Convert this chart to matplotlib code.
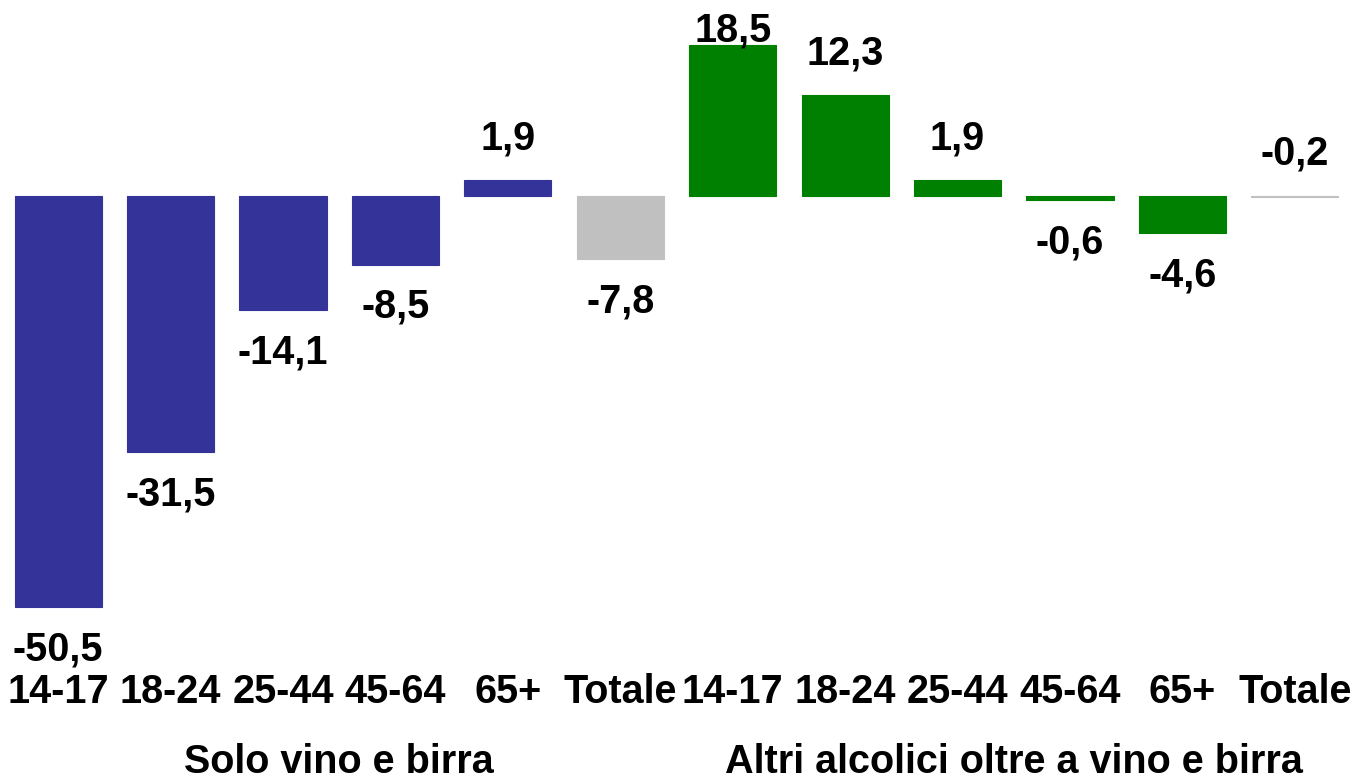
import matplotlib
matplotlib.use("Agg")
import matplotlib.pyplot as plt

plt.rcParams["font.family"] = ["Liberation Sans", "DejaVu Sans"]
plt.rcParams["font.weight"] = "bold"

# Variazioni percentuali per classe di età
age_groups = ["14-17", "18-24", "25-44", "45-64", "65+", "Totale"]
solo_vino_birra = [-50.5, -31.5, -14.1, -8.5, 1.9, -7.8]
altri_alcolici = [18.5, 12.3, 1.9, -0.6, -4.6, -0.2]
group_titles = ["Solo vino e birra", "Altri alcolici oltre a vino e birra"]

values = solo_vino_birra + altri_alcolici
labels = age_groups + age_groups
colors = ["#333399"] * 5 + ["#C0C0C0"] + ["#008000"] * 5 + ["#C0C0C0"]

W, H = 1356, 779
fs = 28.5
fig = plt.figure(figsize=(W / 100, H / 100), dpi=100)
ax = fig.add_axes([2 / W, (H - 665) / H, 1349 / W, 665 / H])

x = list(range(len(values)))
ax.bar(x, values, width=0.775, color=colors, edgecolor=colors, linewidth=0.8)

ax.set_xlim(-0.5, len(values) - 0.5)
ax.set_ylim(-57.6, 24.0)

# etichette dei valori sopra/sotto le barre
off = 5.15
for i, v in enumerate(values):
    if v >= 0 or i == len(values) - 1:
        y = min(max(v, 0) + off, 20.3)
    else:
        y = v - off
    txt = f"{v:.1f}".replace(".", ",")
    ax.text(i, y, txt, ha="center", va="center", fontsize=fs,
            fontweight="bold", color="black")

ax.set_xticks(x)
ax.set_xticklabels(labels, fontsize=fs, fontweight="bold")
ax.tick_params(axis="x", length=0, pad=6)
ax.set_yticks([])
for s in ax.spines.values():
    s.set_visible(False)

# titoli dei due gruppi
for k, title in enumerate(group_titles):
    cx = 2.5 + 6 * k
    ax.annotate(title, xy=(cx, 0), xycoords=("data", "axes fraction"),
                xytext=(0, -56), textcoords="offset points",
                ha="center", va="top", fontsize=fs, fontweight="bold")

fig.savefig("out.png", dpi=100)
